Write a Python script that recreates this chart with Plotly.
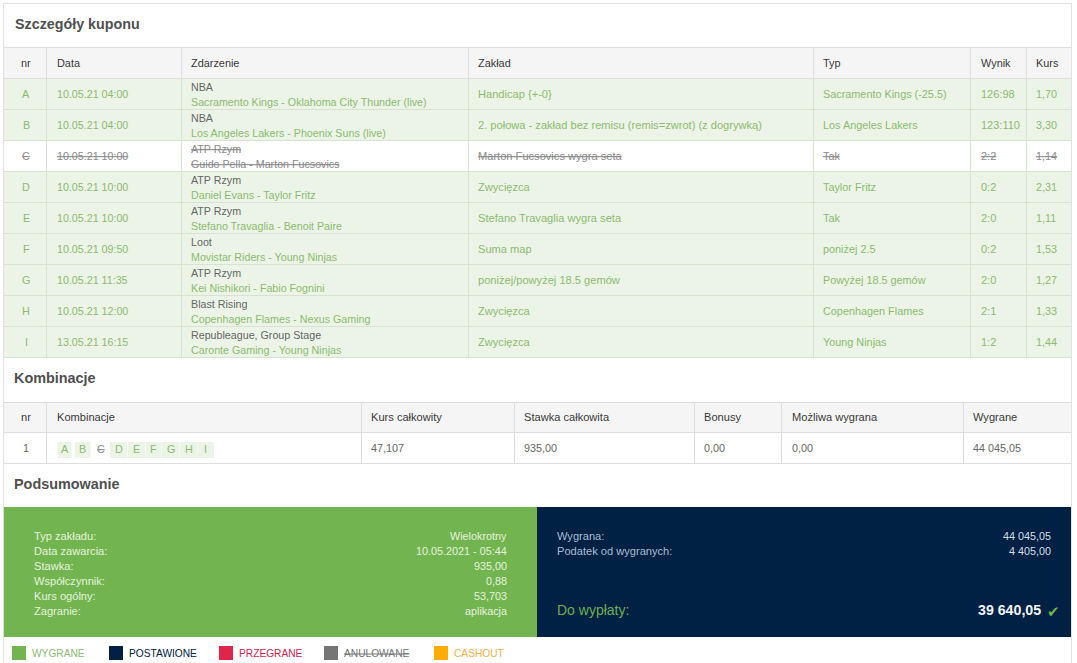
#!/usr/bin/env python
# -*- coding: utf-8 -*-

"""
Szczegóły kuponu - odtworzenie kuponu bukmacherskiego w Plotly
"""

import plotly.graph_objects as go

# Dane kuponu
nr = ['A', 'B', 'C', 'D', 'E', 'F', 'G', 'H', 'I']
daty = ['10.05.21 04:00', '10.05.21 04:00', '10.05.21 10:00', '10.05.21 10:00', '10.05.21 10:00',
        '10.05.21 09:50', '10.05.21 11:35', '10.05.21 12:00', '13.05.21 16:15']
ligi = ['NBA', 'NBA', 'ATP Rzym', 'ATP Rzym', 'ATP Rzym', 'Loot', 'ATP Rzym', 'Blast Rising',
        'Republeague, Group Stage']
mecze = ['Sacramento Kings - Oklahoma City Thunder (live)', 'Los Angeles Lakers - Phoenix Suns (live)',
         'Guido Pella - Marton Fucsovics', 'Daniel Evans - Taylor Fritz', 'Stefano Travaglia - Benoit Paire',
         'Movistar Riders - Young Ninjas', 'Kei Nishikori - Fabio Fognini', 'Copenhagen Flames - Nexus Gaming',
         'Caronte Gaming - Young Ninjas']
zaklady = ['Handicap {+-0}', '2. połowa - zakład bez remisu (remis=zwrot) (z dogrywką)',
           'Marton Fucsovics wygra seta', 'Zwycięzca', 'Stefano Travaglia wygra seta', 'Suma map',
           'poniżej/powyżej 18.5 gemów', 'Zwycięzca', 'Zwycięzca']
typy = ['Sacramento Kings (-25.5)', 'Los Angeles Lakers', 'Tak', 'Taylor Fritz', 'Tak', 'poniżej 2.5',
        'Powyżej 18.5 gemów', 'Copenhagen Flames', 'Young Ninjas']
wyniki = ['126:98', '123:110', '2:2', '0:2', '2:0', '0:2', '2:0', '2:1', '1:2']
kursy = ['1,70', '3,30', '1,14', '2,31', '1,11', '1,53', '1,27', '1,33', '1,44']
anulowane = ['C']

naglowki = ['nr', 'Data', 'Zdarzenie', 'Zakład', 'Typ', 'Wynik', 'Kurs']
naglowki_komb = ['nr', 'Kombinacje', 'Kurs całkowity', 'Stawka całkowita', 'Bonusy', 'Możliwa wygrana', 'Wygrane']
wiersz_komb = ['1', '', '47,107', '935,00', '0,00', '0,00', '44 045,05']

podsum_etykiety = ['Typ zakładu:', 'Data zawarcia:', 'Stawka:', 'Współczynnik:', 'Kurs ogólny:', 'Zagranie:']
podsum_wartosci = ['Wielokrotny', '10.05.2021 - 05:44', '935,00', '0,88', '53,703', 'aplikacja']
wyplata_etykiety = ['Wygrana:', 'Podatek od wygranych:']
wyplata_wartosci = ['44 045,05', '4 405,00']
do_wyplaty = '39 640,05'

legenda = ['WYGRANE', 'POSTAWIONE', 'PRZEGRANE', 'ANULOWANE', 'CASHOUT']
legenda_kolory = ['#72b550', '#002044', '#e1254a', '#757575', '#ffab00']
legenda_teksty = ['#8db974', '#002044', '#c8264f', '#757575', '#f2b04a']

# Style
FONT = 'Liberation Sans'
ZIELONY = '#72b550'
GRANAT = '#002044'
TLO_WIERSZ = '#ebf4e6'
LINIA_WIERSZ = '#d6e3ce'
TLO_NAGL = '#f5f5f5'
LINIA = '#dddddd'
TEKST_ZIEL = '#8cbb70'
TEKST_SZARY = '#666666'
TEKST_NAGL = '#3a3a3a'
TEKST_ANUL = '#8a8a8a'
TYTUL = '#505050'

fig = go.Figure()


def rect(x0, y0, x1, y1, fill, line=None):
    """Prostokąt w układzie pikselowym"""
    fig.add_shape(type='rect', x0=x0, y0=y0, x1=x1, y1=y1, fillcolor=fill, layer='below',
                  line=dict(color=line, width=1) if line else dict(width=0))


def hline(x0, x1, y, color=LINIA):
    fig.add_shape(type='line', x0=x0, x1=x1, y0=y, y1=y, layer='below', line=dict(color=color, width=1))


def vline(x, y0, y1, color=LINIA):
    fig.add_shape(type='line', x0=x, x1=x, y0=y0, y1=y1, layer='below', line=dict(color=color, width=1))


def label(x, y, text, color=TEKST_NAGL, size=10, anchor='left', bold=False, strike=False):
    """Tekst jako adnotacja, opcjonalnie pogrubiony lub przekreślony"""
    if strike:
        text = '<s>' + text + '</s>'
    if bold:
        text = '<b>' + text + '</b>'
    fig.add_annotation(x=x, y=y, text=text, showarrow=False, xanchor=anchor, yanchor='middle',
                       font=dict(family=FONT, size=size, color=color), borderpad=0, borderwidth=0)


# Ramka
vline(3.5, 3, 663, '#e2e2e2')
vline(1071.5, 3, 663, '#e2e2e2')
hline(3, 1072, 3.5, '#e2e2e2')

# Tabela szczegółów
label(15, 24, 'Szczegóły kuponu', TYTUL, 14.3, bold=True)

kol = [4, 46, 181, 468, 813, 970, 1026, 1071]
kol_tekst = [26, 57, 191, 478, 823, 981, 1036]
GORA_NAGL = 47
WYS_NAGL = 31
WYS_WIERSZA = 31

rect(4, GORA_NAGL, 1071, GORA_NAGL + WYS_NAGL, TLO_NAGL)
for i, n in enumerate(naglowki):
    label(kol_tekst[i], GORA_NAGL + 16, n, TEKST_NAGL, 10.9, anchor='center' if i == 0 else 'left')

dol_wierszy = GORA_NAGL + WYS_NAGL + WYS_WIERSZA * len(nr)
for i in range(len(nr)):
    gora = GORA_NAGL + WYS_NAGL + i * WYS_WIERSZA
    anul = nr[i] in anulowane
    rect(4, gora, 1071, gora + WYS_WIERSZA, '#ffffff' if anul else TLO_WIERSZ)
    kolor = TEKST_ANUL if anul else TEKST_ZIEL
    srodek = gora + 16
    label(kol_tekst[0], srodek, nr[i], kolor, 10.8, 'center', strike=anul)
    label(kol_tekst[1], srodek, daty[i], kolor, 10.7, strike=anul)
    label(kol_tekst[2], gora + 9, ligi[i], TEKST_ANUL if anul else TEKST_SZARY, 10.7, strike=anul)
    label(kol_tekst[2], gora + 24, mecze[i], kolor, 10.7, strike=anul)
    label(kol_tekst[3], srodek, zaklady[i], kolor, 11.1, strike=anul)
    label(kol_tekst[4], srodek, typy[i], kolor, 10.85, strike=anul)
    label(kol_tekst[5], srodek, wyniki[i], kolor, 11, strike=anul)
    label(kol_tekst[6], srodek, kursy[i], kolor, 10.8, strike=anul)

for i in range(len(nr) + 2):
    y = GORA_NAGL + WYS_NAGL * min(i, 1) + WYS_WIERSZA * max(i - 1, 0)
    hline(4, 1071, y + 0.5, LINIA if i < 2 else LINIA_WIERSZ)
for x in kol[1:-1]:
    vline(x + 0.5, GORA_NAGL, GORA_NAGL + WYS_NAGL, LINIA)
    vline(x + 0.5, GORA_NAGL + WYS_NAGL, dol_wierszy, LINIA_WIERSZ)

# Tabela kombinacji
label(14, 378, 'Kombinacje', TYTUL, 14.4, bold=True)
kol2 = [4, 46, 361, 514, 694, 781, 963, 1071]
kol2_tekst = [26, 57, 371, 524, 704, 792, 973]
rect(4, 402, 1071, 433, TLO_NAGL)
hline(4, 1071, 402.5)
hline(4, 1071, 432.5)
hline(4, 1071, 463.5)
for x in kol2[1:-1]:
    vline(x + 0.5, 402, 463)
for i, n in enumerate(naglowki_komb):
    label(kol2_tekst[i], 417, n, TEKST_NAGL, 11.1, anchor='center' if i == 0 else 'left')
for i, w in enumerate(wiersz_komb):
    label(kol2_tekst[i], 448, w, TEKST_SZARY, 10.8, anchor='center' if i == 0 else 'left')

# Znaczniki kombinacji
znacznik_x0 = [57.5, 75, 92, 110, 127.8, 145.5, 162, 180, 197.5]
znacznik_x1 = [71.5, 90.5, 109, 127.5, 145.2, 161.5, 179.5, 197, 214]
for i, n in enumerate(nr):
    anul = n in anulowane
    if not anul:
        rect(znacznik_x0[i], 442, znacznik_x1[i], 458, TLO_WIERSZ)
    label((znacznik_x0[i] + znacznik_x1[i]) / 2, 449, n, TEKST_ANUL if anul else TEKST_ZIEL, 10.8, 'center',
          strike=anul)

# Podsumowanie
label(14, 484, 'Podsumowanie', TYTUL, 14.4, bold=True)
rect(4, 507, 537, 637, ZIELONY)
rect(537, 507, 1071, 637, GRANAT)
for i in range(len(podsum_etykiety)):
    y = 535.5 + i * 15
    label(34, y, podsum_etykiety[i], '#e6f2de', 11.1)
    label(507, y, podsum_wartosci[i], '#e6f2de', 10.8, 'right')
for i in range(len(wyplata_etykiety)):
    y = 535.5 + i * 15
    label(557, y, wyplata_etykiety[i], '#a9bdd2', 11.1)
    label(1051, y, wyplata_wartosci[i], '#d5dfe8', 10.8, 'right')
label(557, 610, 'Do wypłaty:', '#6fae52', 14)
label(1041, 610, do_wyplaty, '#f2f5f7', 14.2, 'right', bold=True)
label(1053, 611, '✔', ZIELONY, 15, 'center')

# Legenda
leg_x = [12, 109, 219, 324, 434]
for i in range(len(legenda)):
    rect(leg_x[i], 646, leg_x[i] + 14, 660, legenda_kolory[i])
    label(leg_x[i] + 20, 653, legenda[i], legenda_teksty[i], 10.2, strike=legenda[i] == 'ANULOWANE')

fig.update_layout(
    width=1077, height=663, margin=dict(l=0, r=0, t=0, b=0),
    paper_bgcolor='white', plot_bgcolor='white', showlegend=False,
    xaxis=dict(range=[0, 1077], visible=False, fixedrange=True),
    yaxis=dict(range=[663, 0], visible=False, fixedrange=True),
)

fig.write_html("out.html", config={'displayModeBar': False},
               post_script="document.body.style.margin='0';")
